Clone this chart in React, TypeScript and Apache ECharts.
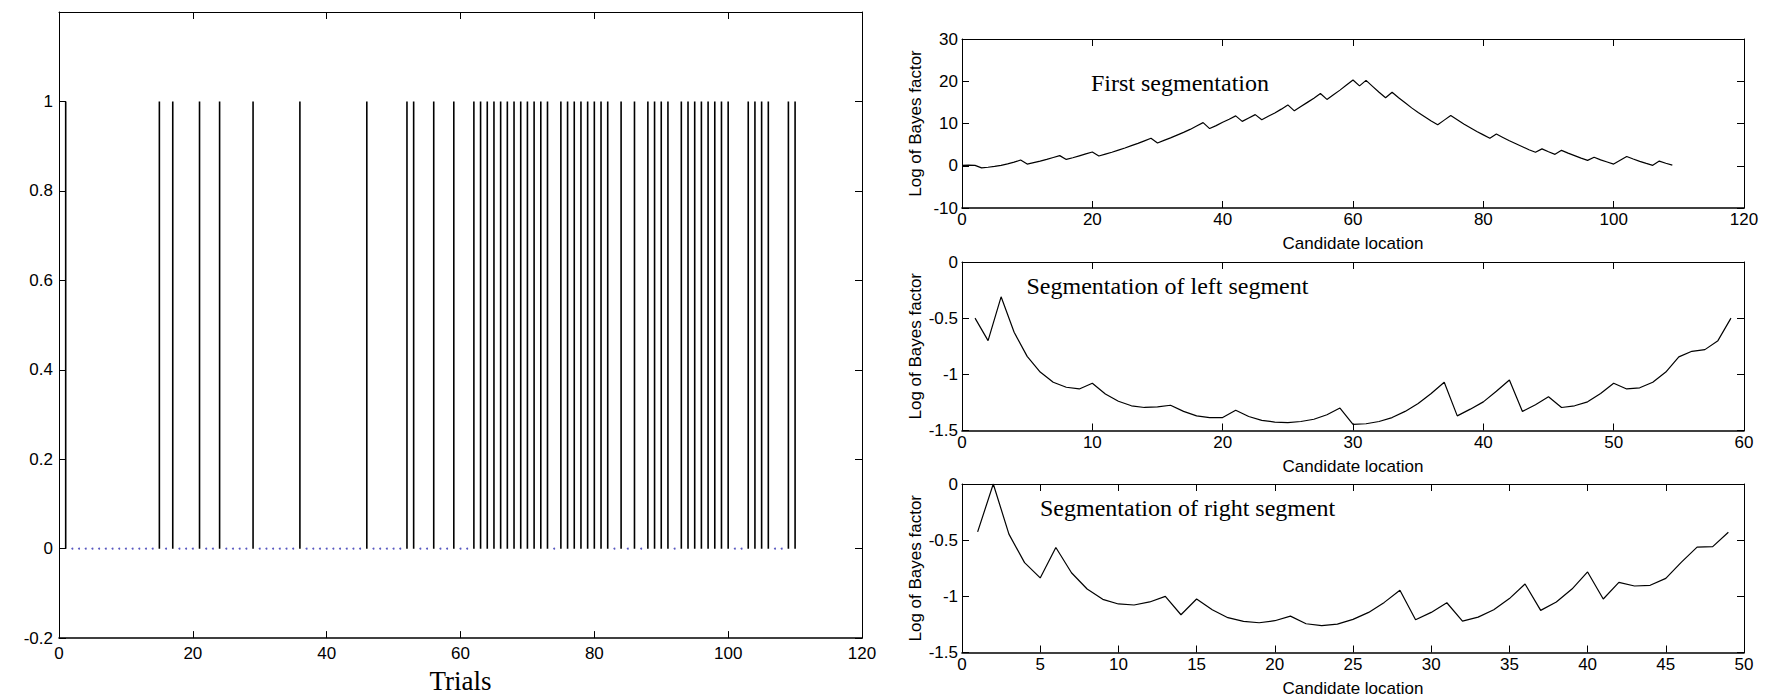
import React, { useEffect, useRef } from "react";
import * as echarts from "echarts";

// ---------------- data ----------------
const trialCount = 110;
// trials whose outcome is 1 (the others are 0)
const eventTrials = [
  1, 15, 17, 21, 24, 29, 36, 46, 52, 53, 56, 59,
  62, 63, 64, 65, 66, 67, 68, 69, 70, 71, 72, 73,
  75, 76, 77, 78, 79, 80, 81, 82, 84, 86, 88, 89, 90, 91,
  93, 94, 95, 96, 97, 98, 99, 100, 103, 104, 105, 106, 109, 110,
];

// First segmentation, candidate locations 0..109
const firstSegStart = 0;
const firstSegValues = [
  0.1, 0.15, 0.1, -0.5, -0.35, -0.15, 0.1, 0.45, 0.85, 1.35,
  0.4, 0.75, 1.1, 1.5, 1.95, 2.4, 1.5, 1.9, 2.35, 2.8,
  3.25, 2.3, 2.75, 3.2, 3.7, 4.2, 4.75, 5.3, 5.9, 6.5,
  5.4, 6.0, 6.6, 7.25, 7.9, 8.6, 9.4, 10.2, 8.8, 9.5,
  10.3, 11.0, 11.8, 10.5, 11.3, 12.1, 10.9, 11.7, 12.5, 13.4,
  14.4, 13.0, 14.0, 15.0, 16.0, 17.1, 15.7, 16.8, 17.9, 19.1,
  20.3, 18.9, 20.2, 18.8, 17.4, 16.1, 17.4, 16.1, 14.9, 13.7,
  12.6, 11.6, 10.6, 9.7, 10.8, 11.9, 10.9, 9.9, 9.0, 8.1,
  7.3, 6.5, 7.5, 6.7, 5.9, 5.2, 4.5, 3.8, 3.2, 4.0,
  3.3, 2.7, 3.65, 3.0, 2.4, 1.8, 1.27, 2.0, 1.4, 0.9,
  0.4, 1.3, 2.2, 1.6, 1.05, 0.55, 0.1, 1.1, 0.6, 0.15,
];

// Segmentation of left segment, candidate locations 1..59
const leftSegStart = 1;
const leftSegValues = [
  -0.5, -0.7, -0.31, -0.625, -0.84, -0.98, -1.07, -1.115, -1.13, -1.08,
  -1.175, -1.24, -1.28, -1.295, -1.29, -1.275, -1.33, -1.37, -1.385, -1.385,
  -1.32, -1.375, -1.41, -1.425, -1.43, -1.42, -1.4, -1.36, -1.3, -1.446,
  -1.44, -1.42, -1.385, -1.33, -1.26, -1.17, -1.07, -1.37, -1.31, -1.245,
  -1.15, -1.05, -1.33, -1.27, -1.2, -1.295, -1.28, -1.245, -1.17, -1.08,
  -1.13, -1.12, -1.07, -0.98, -0.845, -0.795, -0.78, -0.7, -0.5,
];

// Segmentation of right segment, candidate locations 1..49
const rightSegStart = 1;
const rightSegValues = [
  -0.426, 0.0, -0.446, -0.7, -0.836, -0.565, -0.79, -0.935, -1.027, -1.068,
  -1.077, -1.05, -1.0, -1.164, -1.024, -1.12, -1.19, -1.223, -1.235, -1.217,
  -1.176, -1.244, -1.26, -1.247, -1.205, -1.143, -1.054, -0.946, -1.208, -1.143,
  -1.057, -1.22, -1.185, -1.12, -1.02, -0.89, -1.125, -1.05, -0.935, -0.783,
  -1.024, -0.875, -0.908, -0.902, -0.84, -0.696, -0.5625, -0.557, -0.43,
];

const panelTitles = [
  "First segmentation",
  "Segmentation of left segment",
  "Segmentation of right segment",
];
const xName = "Candidate location";
const yName = "Log of Bayes factor";
const trialsName = "Trials";

// ---------------- styles ----------------
const SANS = "'Liberation Sans', Arial, Helvetica, sans-serif";
const SERIF = "'Liberation Serif', 'Times New Roman', serif";

function fmt(v: number) {
  const r = Math.round(v * 1000) / 1000;
  return String(r);
}

function makeAxes(
  gridIndex: number,
  xr: [number, number, number],
  yr: [number, number, number],
  o: {
    labelSize: number;
    xMargin: number;
    yMargin: number;
    xName?: string;
    xNameGap?: number;
    xNameStyle?: any;
    yName?: string;
    yNameGap?: number;
    yFormatter?: (v: number) => string;
  }
) {
  const tick = { show: true, inside: true, length: 7, lineStyle: { color: "#000", width: 1 } };
  const x = [
    {
      type: "value",
      gridIndex,
      min: xr[0],
      max: xr[1],
      interval: xr[2],
      position: "bottom",
      axisLine: { show: true, onZero: false, lineStyle: { color: "#000", width: 1.6 } },
      axisTick: tick,
      axisLabel: {
        show: true,
        color: "#000",
        fontFamily: SANS,
        fontSize: o.labelSize,
        margin: o.xMargin,
        showMinLabel: true,
        showMaxLabel: true,
        formatter: fmt,
      },
      splitLine: { show: false },
      name: o.xName,
      nameLocation: "middle",
      nameGap: o.xNameGap,
      nameTextStyle: o.xNameStyle,
    },
    {
      type: "value",
      gridIndex,
      min: xr[0],
      max: xr[1],
      interval: xr[2],
      position: "top",
      axisLine: { show: true, onZero: false, lineStyle: { color: "#000", width: 1 } },
      axisTick: tick,
      axisLabel: { show: false },
      splitLine: { show: false },
    },
  ];
  const y = [
    {
      type: "value",
      gridIndex,
      min: yr[0],
      max: yr[1],
      interval: yr[2],
      position: "left",
      axisLine: { show: true, onZero: false, lineStyle: { color: "#000", width: 1 } },
      axisTick: tick,
      axisLabel: {
        show: true,
        color: "#000",
        fontFamily: SANS,
        fontSize: o.labelSize,
        margin: o.yMargin,
        showMinLabel: true,
        showMaxLabel: true,
        formatter: o.yFormatter || fmt,
      },
      splitLine: { show: false },
      name: o.yName,
      nameLocation: "middle",
      nameGap: o.yNameGap,
      nameTextStyle: { color: "#000", fontFamily: SANS, fontSize: 17 },
    },
    {
      type: "value",
      gridIndex,
      min: yr[0],
      max: yr[1],
      interval: yr[2],
      position: "right",
      axisLine: { show: true, onZero: false, lineStyle: { color: "#000", width: 1 } },
      axisTick: tick,
      axisLabel: { show: false },
      splitLine: { show: false },
    },
  ];
  return { x, y };
}

export default function App() {
  const ref = useRef<HTMLDivElement>(null);

  useEffect(() => {
    if (!ref.current) return;
    const chart = echarts.init(ref.current, undefined, { renderer: "svg" });

    const eventSet = new Set(eventTrials);
    const stemData = eventTrials.map((t) => [t, 1]);
    const zeroData: number[][] = [];
    for (let t = 1; t <= trialCount; t++) if (!eventSet.has(t)) zeroData.push([t, 0]);

    const toXY = (vals: number[], start: number) => vals.map((v, i) => [start + i, v]);

    const a0 = makeAxes(0, [0, 120, 20], [-0.2, 1.2, 0.2], {
      labelSize: 17,
      xMargin: 7,
      yMargin: 6,
      xName: trialsName,
      xNameGap: 25,
      xNameStyle: { color: "#000", fontFamily: SERIF, fontSize: 27 },
      yFormatter: (v: number) => (Math.abs(v - 1.2) < 1e-6 ? "" : fmt(v)),
    });
    const rightOpts = {
      labelSize: 17,
      xMargin: 3,
      yMargin: 4,
      xName,
      xNameGap: 27,
      xNameStyle: { color: "#000", fontFamily: SANS, fontSize: 17 },
      yName,
      yNameGap: 38,
    };
    const a1 = makeAxes(1, [0, 120, 20], [-10, 30, 10], rightOpts);
    const a2 = makeAxes(2, [0, 60, 10], [-1.5, 0, 0.5], rightOpts);
    const a3 = makeAxes(3, [0, 50, 5], [-1.5, 0, 0.5], rightOpts);

    const lineStyle = { color: "#000", width: 1.2 };

    chart.setOption({
      animation: false,
      backgroundColor: "#fff",
      grid: [
        { left: 59, top: 12, width: 803, height: 631 },
        { left: 962, top: 39, width: 782, height: 169 },
        { left: 962, top: 262, width: 782, height: 168.5 },
        { left: 962, top: 484, width: 782, height: 168.5 },
      ],
      xAxis: [...a0.x, ...a1.x, ...a2.x, ...a3.x],
      yAxis: [...a0.y, ...a1.y, ...a2.y, ...a3.y],
      series: [
        {
          type: "custom",
          xAxisIndex: 0,
          yAxisIndex: 0,
          data: stemData,
          encode: { x: 0, y: 1 },
          renderItem: (params: any, api: any) => {
            const p0 = api.coord([api.value(0), 0]);
            const p1 = api.coord([api.value(0), api.value(1)]);
            return {
              type: "line",
              shape: { x1: p0[0], y1: p0[1], x2: p1[0], y2: p1[1] },
              style: { stroke: "#000", lineWidth: 1.6 },
            };
          },
        },
        {
          type: "scatter",
          xAxisIndex: 0,
          yAxisIndex: 0,
          data: zeroData,
          symbol: "circle",
          symbolSize: 2,
          itemStyle: { color: "#3030b0" },
        },
        {
          type: "line",
          xAxisIndex: 2,
          yAxisIndex: 2,
          data: toXY(firstSegValues, firstSegStart),
          showSymbol: false,
          symbol: "none",
          lineStyle,
        },
        {
          type: "line",
          xAxisIndex: 4,
          yAxisIndex: 4,
          data: toXY(leftSegValues, leftSegStart),
          showSymbol: false,
          symbol: "none",
          lineStyle,
        },
        {
          type: "line",
          xAxisIndex: 6,
          yAxisIndex: 6,
          data: toXY(rightSegValues, rightSegStart),
          showSymbol: false,
          symbol: "none",
          lineStyle,
        },
      ],
      graphic: [
        { x: 1091, y: 82.6, text: panelTitles[0] },
        { x: 1026.5, y: 285.6, text: panelTitles[1] },
        { x: 1040, y: 508.2, text: panelTitles[2] },
      ].map((t) => ({
        type: "text",
        x: t.x,
        y: t.y,
        silent: true,
        style: {
          text: t.text,
          fontFamily: SERIF,
          fontSize: 24,
          fill: "#000",
          align: "left",
          verticalAlign: "middle",
          textAlign: "left",
          textVerticalAlign: "middle",
        },
      })),
    });

    return () => chart.dispose();
  }, []);

  return (
    <div
      ref={ref}
      style={{ position: "absolute", left: 0, top: 0, width: 1765, height: 699, background: "#fff" }}
    />
  );
}
